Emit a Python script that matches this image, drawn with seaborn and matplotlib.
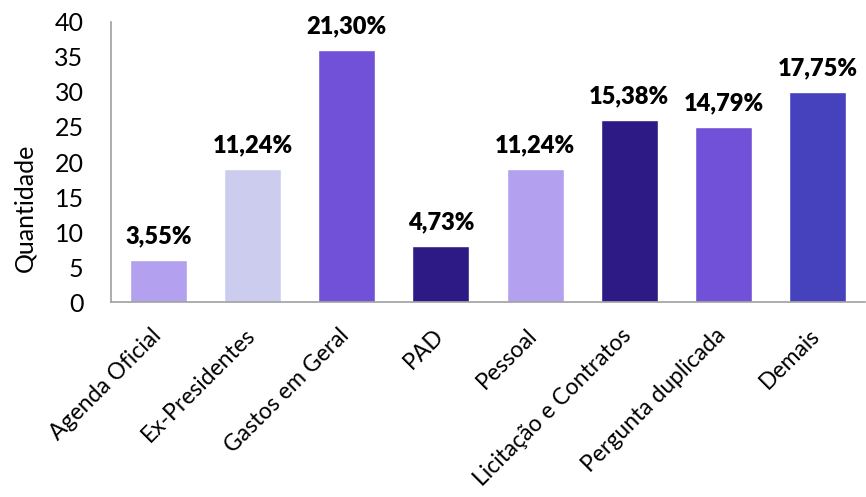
import matplotlib
matplotlib.use("Agg")
import matplotlib.pyplot as plt
import matplotlib.transforms as mtransforms
import seaborn as sns
import pandas as pd

categorias = ["Agenda Oficial", "Ex-Presidentes", "Gastos em Geral", "PAD", "Pessoal",
              "Licitação e Contratos", "Pergunta duplicada", "Demais"]
quantidades = [6, 19, 36, 8, 19, 26, 25, 30]
percentuais = ["3,55%", "11,24%", "21,30%", "4,73%", "11,24%", "15,38%", "14,79%", "17,75%"]
cores = ["#b3a0ee", "#cccdee", "#7251d9", "#2e1a85", "#b3a0ee", "#2e1a85", "#7251d9", "#4641bd"]

df = pd.DataFrame({"categoria": categorias, "quantidade": quantidades})

sns.set_theme(style="white")
plt.rcParams["font.family"] = ["Lato", "DejaVu Sans"]

fig = plt.figure(figsize=(8.66, 4.97), dpi=100)
ax = fig.add_axes([0.1286, 0.392, 0.8698, 0.564])

sns.barplot(data=df, x="categoria", y="quantidade", hue="categoria", palette=cores,
            legend=False, width=0.605, saturation=1, ax=ax)

for i, (q, p) in enumerate(zip(quantidades, percentuais)):
    ax.annotate(p, (i, q), xytext=(0, 9), textcoords="offset points",
                ha="center", va="bottom", fontsize=17, fontweight="heavy", color="#000000")

ax.set_ylim(0, 40)
ax.set_xlim(-0.5, 7.5)
ax.set_yticks(range(0, 41, 5))
ax.tick_params(axis="y", labelsize=18, length=0, pad=20, colors="#000000")
ax.tick_params(axis="x", labelsize=16.5, length=0, pad=16, colors="#000000")
shift = mtransforms.ScaledTranslation(-6 / 72, 0, fig.dpi_scale_trans)
for lbl in ax.get_xticklabels():
    lbl.set_rotation(45)
    lbl.set_ha("right")
    lbl.set_rotation_mode("anchor")
    lbl.set_transform(lbl.get_transform() + shift)
ax.set_xlabel("")
ax.set_ylabel("Quantidade", fontsize=18, color="#000000")
ax.yaxis.set_label_coords(-0.099, 0.336)

for s in ["top", "right"]:
    ax.spines[s].set_visible(False)
for s in ["left", "bottom"]:
    ax.spines[s].set_color("#a0a0a0")
    ax.spines[s].set_linewidth(1.2)

fig.savefig("out.png", dpi=100)
